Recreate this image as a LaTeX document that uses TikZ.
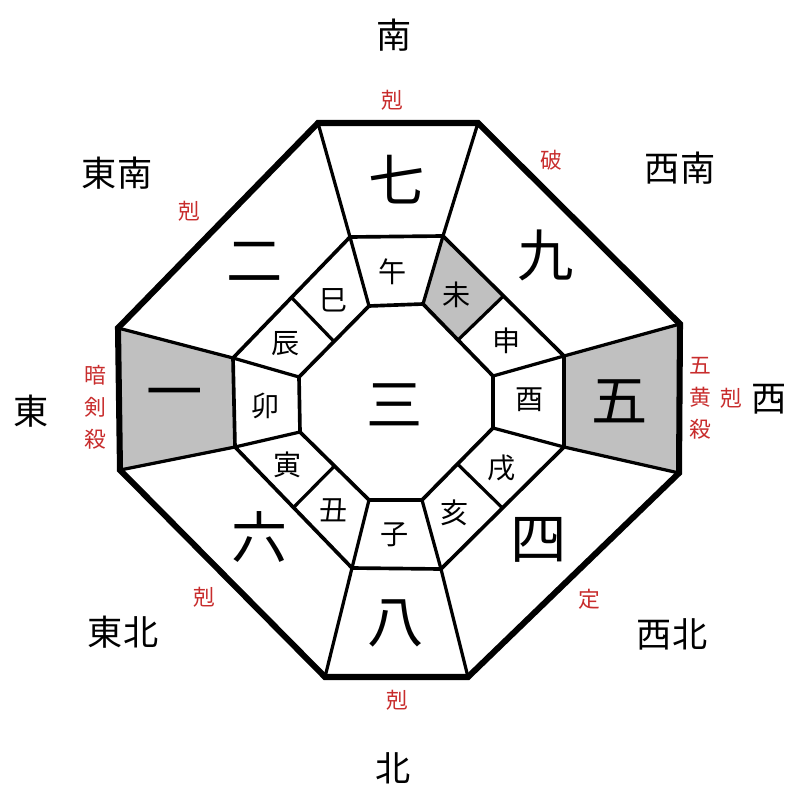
\documentclass[tikz,border=0pt]{standalone}
\usepackage{fontspec}
\setmainfont{Noto Sans CJK JP}
\usetikzlibrary{calc}
\definecolor{kokured}{RGB}{200,45,45}
\definecolor{cellgray}{RGB}{192,192,192}
\begin{document}
\begin{tikzpicture}[x=0.025cm,y=-0.025cm,
    dirtext/.style={font=\fontsize{25}{25}\selectfont, inner sep=0pt},
    redtext/.style={text=kokured, font=\fontsize{15.5}{22.7}\selectfont, inner sep=0pt, align=center},
    startext/.style={font=\fontsize{40}{40}\selectfont, inner sep=0pt},
    branchtext/.style={font=\fontsize{20}{20}\selectfont, inner sep=0pt},
    rim/.style={line width=4.3pt},
    ring/.style={line width=2.6pt},
    spoke/.style={line width=2.3pt}]
            \useasboundingbox (0,0) rectangle (800,800);

            %vertici dei tre ottagoni
            \foreach \n/\x/\y in {1/318/123, 2/478/123, 3/680/324, 4/679/473, 5/468/677, 6/325/677, 7/120/470, 8/118/328}
                \coordinate (o\n) at (\x,\y);
            \foreach \n/\x/\y in {1/350/237, 2/443/236, 3/564/356, 4/564/447, 5/441/569, 6/352/568, 7/235/447, 8/233/358}
                \coordinate (m\n) at (\x,\y);
            \foreach \n/\x/\y in {1/369/306, 2/423/304, 3/493/376, 4/493/428, 5/422/500, 6/369/500, 7/300/432, 8/299/377}
                \coordinate (i\n) at (\x,\y);

            %settori grigi
            \fill [cellgray] (o7) -- (o8) -- (m8) -- (m7) -- cycle;
            \fill [cellgray] (o3) -- (o4) -- (m4) -- (m3) -- cycle;
            \fill [cellgray] (m2) -- ($(m2)!0.5!(m3)$) -- ($(i2)!0.5!(i3)$) -- (i2) -- cycle;

            %raggi
            \foreach \k in {1,...,8} {
                \draw [spoke] (o\k) -- (m\k);
                \draw [spoke] (m\k) -- (i\k);
            }
            \foreach \a/\b in {2/3, 4/5, 6/7, 8/1}
                \draw [spoke] ($(m\a)!0.5!(m\b)$) -- ($(i\a)!0.5!(i\b)$);

            %ottagoni
            \draw [ring] (m1) -- (m2) -- (m3) -- (m4) -- (m5) -- (m6) -- (m7) -- (m8) -- cycle;
            \draw [ring] (i1) -- (i2) -- (i3) -- (i4) -- (i5) -- (i6) -- (i7) -- (i8) -- cycle;
            \draw [rim, line join=miter] (o1) -- (o2) -- (o3) -- (o4) -- (o5) -- (o6) -- (o7) -- (o8) -- cycle;

            %direzioni
            \node [dirtext] (minami) at (394,35) {南};
            \node [dirtext] (tonan) at (117,173) {東南};
            \node [dirtext] (seinan) at (680,168) {西南};
            \node [dirtext] (higashi) at (31,411) {東};
            \node [dirtext] (nishi) at (769,399) {西};
            \node [dirtext] (tohoku) at (123,632) {東北};
            \node [dirtext] (seihoku) at (672,634) {西北};
            \node [dirtext] (kita) at (393,768) {北};

            %scritte rosse
            \node [redtext] (kokuS) at (392,100) {剋};
            \node [redtext] (ha) at (551,160) {破};
            \node [redtext] (kokuSE) at (189,211) {剋};
            \node [redtext] (anken) at (95,407) {暗\\剣\\殺};
            \node [redtext] (goou) at (700,398) {五\\黄\\殺};
            \node [redtext] (kokuW) at (731,398) {剋};
            \node [redtext] (kokuNE) at (204,597) {剋};
            \node [redtext] (tei) at (589,599) {定};
            \node [redtext] (kokuN) at (397,700) {剋};

            %stelle
            \node [startext] (nana) at (397,180) {七};
            \node [startext] (kyu) at (546,255) {九};
            \node [startext] (go) at (620,401) {五};
            \node [startext] (yon) at (539,540) {四};
            \node [startext] (hachi) at (396,623) {八};
            \node [startext] (roku) at (260,537) {六};
            \node [startext] (ichi) at (175,400) {一};
            \node [startext] (ni) at (255,262) {二};
            \node [startext] (san) at (395,405) {三};

            %rami terrestri
            \node [branchtext] (uma) at (393,272) {午};
            \node [branchtext] (hitsuji) at (457,295) {未};
            \node [branchtext] (saru) at (507,341) {申};
            \node [branchtext] (tori) at (530,400) {酉};
            \node [branchtext] (inu) at (502,468) {戌};
            \node [branchtext] (inoshishi) at (455,513) {亥};
            \node [branchtext] (nezumi) at (395,535) {子};
            \node [branchtext] (ushi) at (334,510) {丑};
            \node [branchtext] (tora) at (288,465) {寅};
            \node [branchtext] (usagi) at (266,406) {卯};
            \node [branchtext] (tatsu) at (286,344) {辰};
            \node [branchtext] (hebi) at (334,300) {巳};

        \end{tikzpicture}
\end{document}
